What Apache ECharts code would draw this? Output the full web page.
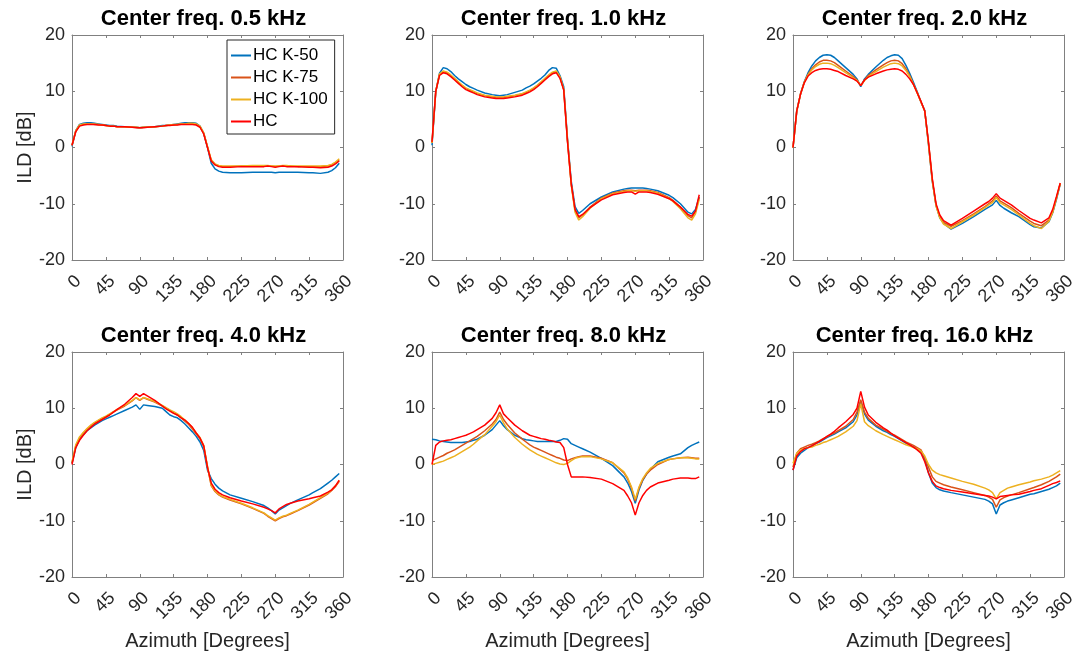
<!DOCTYPE html>
<html>
<head>
<meta charset="utf-8">
<script src="https://cdn.jsdelivr.net/npm/echarts@6/dist/echarts.min.js"></script>
<style>html,body{margin:0;padding:0;background:#fff}#c{width:1084px;height:657px}</style>
</head>
<body>
<div id="c"></div>
<script>
// Azimuth sample points (degrees)
const azimuth = [0,5,10,15,20,25,30,35,40,45, 50,55,60,70,80,85,90,95,100,110, 120,125,130,135,140,145,150,155,160,165, 170,175,180,185,190,195,200,210,225,240, 255,260,265,270,275,280,285,290,300,315, 320,330,340,345,350,355];
const xTicks = [0,45,90,135,180,225,270,315,360];
const yTicks = [-20,-10,0,10,20];
const seriesNames = ['HC K-50','HC K-75','HC K-100','HC'];
const panelTitles = ['Center freq. 0.5 kHz','Center freq. 1.0 kHz','Center freq. 2.0 kHz','Center freq. 4.0 kHz','Center freq. 8.0 kHz','Center freq. 16.0 kHz'];

// 0.5 kHz
const f05_k50 = [0.2,3.0,4.1,4.3,4.4,4.4,4.3,4.2,4.1,4.0, 3.9,3.9,3.8,3.7,3.6,3.6,3.5,3.6,3.6,3.7, 3.9,3.9,4.0,4.1,4.2,4.3,4.4,4.4,4.4,4.3, 3.8,2.5,0.0,-2.8,-3.8,-4.2,-4.4,-4.5,-4.5,-4.4, -4.4,-4.4,-4.4,-4.5,-4.4,-4.4,-4.4,-4.4,-4.4,-4.5, -4.5,-4.6,-4.4,-4.1,-3.6,-2.8];
const f05_k75 = [0.4,2.9,3.9,4.1,4.2,4.2,4.1,4.1,4.0,3.9, 3.8,3.8,3.7,3.7,3.6,3.6,3.5,3.6,3.6,3.7, 3.8,3.9,4.0,4.0,4.1,4.2,4.2,4.2,4.2,4.1, 3.7,2.5,0.1,-2.3,-3.0,-3.3,-3.4,-3.4,-3.3,-3.3, -3.3,-3.3,-3.3,-3.4,-3.3,-3.3,-3.3,-3.3,-3.4,-3.4, -3.4,-3.4,-3.3,-3.1,-2.7,-2.2];
const f05_k100 = [0.4,3.0,4.0,4.2,4.2,4.2,4.2,4.1,4.0,3.9, 3.8,3.8,3.7,3.7,3.6,3.6,3.5,3.6,3.6,3.7, 3.8,3.9,4.0,4.1,4.1,4.2,4.2,4.3,4.3,4.2, 3.8,2.6,0.2,-2.2,-2.9,-3.2,-3.3,-3.3,-3.3,-3.2, -3.2,-3.2,-3.3,-3.3,-3.3,-3.2,-3.2,-3.3,-3.3,-3.3, -3.3,-3.3,-3.2,-3.0,-2.6,-2.0];
const f05_hc = [0.4,2.8,3.8,4.0,4.1,4.1,4.1,4.0,4.0,3.9, 3.8,3.8,3.7,3.7,3.6,3.5,3.5,3.5,3.6,3.7, 3.8,3.9,3.9,4.0,4.0,4.1,4.1,4.1,4.1,4.0, 3.6,2.4,0.0,-2.4,-3.1,-3.4,-3.5,-3.5,-3.4,-3.4, -3.4,-3.3,-3.4,-3.5,-3.4,-3.3,-3.4,-3.4,-3.4,-3.5, -3.5,-3.6,-3.5,-3.3,-2.9,-2.4];

// 1.0 kHz
const f1_k50 = [0.4,9.9,13.2,14.2,14.0,13.5,12.8,12.2,11.7,11.2, 10.8,10.5,10.2,9.7,9.4,9.3,9.2,9.3,9.4,9.8, 10.2,10.6,10.9,11.3,11.8,12.3,12.9,13.7,14.2,14.1, 12.8,10.8,1.5,-6.0,-10.5,-11.7,-11.2,-10.0,-8.8,-7.9, -7.4,-7.3,-7.2,-7.2,-7.2,-7.2,-7.3,-7.4,-7.7,-8.5, -8.9,-10.0,-11.5,-11.8,-11.0,-8.8];
const f1_k75 = [0.8,10.0,13.0,13.5,13.3,12.8,12.2,11.6,11.0,10.5, 10.2,9.9,9.6,9.2,9.0,8.9,8.9,8.9,9.0,9.2, 9.5,9.8,10.1,10.5,11.0,11.6,12.2,12.8,13.3,13.5, 12.5,10.3,1.2,-6.5,-11.2,-12.5,-12.0,-10.6,-9.0,-8.1, -7.7,-7.6,-7.6,-7.7,-7.6,-7.6,-7.6,-7.7,-8.0,-8.9, -9.4,-10.6,-12.1,-12.5,-11.5,-8.9];
const f1_k100 = [0.8,10.0,13.1,13.6,13.4,12.9,12.3,11.7,11.1,10.6, 10.3,10.0,9.7,9.3,9.1,9.0,9.0,9.0,9.1,9.3, 9.6,9.9,10.2,10.6,11.1,11.7,12.3,12.9,13.4,13.6, 12.6,10.3,1.3,-6.7,-11.5,-12.9,-12.3,-10.8,-9.1,-8.2, -7.8,-7.7,-7.7,-7.8,-7.7,-7.7,-7.7,-7.8,-8.1,-9.1, -9.6,-10.9,-12.5,-12.9,-11.8,-9.2];
const f1_hc = [1.0,10.0,12.8,13.3,13.1,12.6,12.0,11.4,10.8,10.3, 10.0,9.7,9.4,9.0,8.8,8.7,8.7,8.7,8.8,9.0, 9.3,9.6,9.9,10.3,10.8,11.4,12.0,12.6,13.1,13.3, 12.3,10.2,1.0,-6.5,-11.0,-12.3,-11.9,-10.7,-9.3,-8.4, -8.0,-7.9,-7.9,-8.3,-7.9,-7.9,-7.9,-8.0,-8.3,-9.1, -9.5,-10.6,-11.9,-12.2,-11.3,-8.4];

// 2.0 kHz
const f2_k50 = [0.0,6.5,9.5,11.7,13.3,14.5,15.4,16.0,16.4,16.5, 16.4,16.0,15.4,14.2,13.0,12.2,10.8,12.2,13.0,14.3, 15.5,16.0,16.3,16.5,16.4,15.8,14.6,13.2,11.6,9.9, 8.1,6.6,0.5,-6.0,-10.3,-12.5,-13.5,-14.5,-13.5,-12.3, -11.0,-10.6,-10.2,-9.4,-10.3,-10.8,-11.2,-11.6,-12.3,-13.7, -14.1,-14.3,-13.2,-11.6,-9.2,-6.5];
const f2_k75 = [0.0,6.5,9.5,11.6,13.0,14.0,14.7,15.2,15.5,15.5, 15.4,15.1,14.6,13.6,12.6,12.0,11.0,12.0,12.8,13.8, 14.7,15.1,15.4,15.5,15.4,14.9,14.0,12.8,11.3,9.8, 8.1,6.5,0.8,-5.7,-10.2,-12.3,-13.3,-14.0,-13.0,-11.8, -10.5,-10.0,-9.5,-8.6,-9.5,-9.9,-10.3,-10.7,-11.7,-13.1, -13.5,-13.9,-12.9,-11.4,-9.0,-6.4];
const f2_k100 = [0.0,6.5,9.5,11.6,12.9,13.8,14.4,14.8,15.0,15.0, 14.9,14.6,14.2,13.3,12.4,11.9,11.0,11.9,12.6,13.5, 14.3,14.6,14.9,15.0,14.9,14.5,13.7,12.6,11.2,9.7, 8.1,6.5,0.6,-5.9,-10.4,-12.5,-13.6,-14.4,-13.2,-12.0, -10.7,-10.2,-9.8,-8.9,-9.8,-10.2,-10.6,-11.0,-12.0,-13.5, -13.9,-14.4,-13.1,-11.5,-9.0,-6.4];
const f2_hc = [0.0,6.5,9.5,11.5,12.7,13.3,13.7,13.9,14.0,14.0, 13.9,13.7,13.5,12.8,12.2,11.8,11.0,12.0,12.5,13.1, 13.6,13.8,13.9,14.0,13.9,13.6,13.0,12.2,11.2,9.7, 8.2,6.5,1.0,-5.5,-10.0,-12.0,-13.0,-13.8,-12.6,-11.3, -10.0,-9.6,-9.0,-8.2,-9.0,-9.4,-9.8,-10.2,-11.2,-12.6, -12.9,-13.4,-12.5,-11.0,-8.7,-6.3];

// 4.0 kHz
const f4_k50 = [0.2,3.0,4.5,5.3,6.0,6.5,7.0,7.4,7.8,8.1, 8.4,8.7,9.0,9.6,10.2,10.6,9.8,10.6,10.5,10.3, 10.0,9.4,8.8,8.5,8.3,7.8,7.2,6.5,5.8,5.0, 4.0,2.5,-1.0,-2.5,-3.5,-4.2,-4.7,-5.4,-6.0,-6.6, -7.3,-7.7,-8.2,-8.8,-8.1,-7.7,-7.3,-6.9,-6.3,-5.4, -5.0,-4.3,-3.3,-2.8,-2.2,-1.6];
const f4_k75 = [0.3,3.3,4.7,5.6,6.3,6.9,7.4,7.8,8.2,8.5, 8.9,9.3,9.7,10.4,11.3,11.9,11.4,11.9,11.6,11.1, 10.4,10.0,9.6,9.2,8.8,8.3,7.7,7.1,6.3,5.4, 4.6,3.2,-0.5,-3.8,-4.8,-5.4,-5.8,-6.3,-7.0,-7.8, -8.7,-9.2,-9.6,-10.0,-9.6,-9.3,-9.1,-8.8,-8.2,-7.2, -6.8,-6.0,-5.2,-4.6,-3.9,-3.0];
const f4_k100 = [0.4,3.5,4.9,5.7,6.4,7.0,7.5,7.9,8.3,8.6, 9.0,9.4,9.8,10.5,11.4,11.9,11.5,11.9,11.7,11.2, 10.5,10.1,9.7,9.4,9.0,8.5,7.9,7.3,6.5,5.6, 4.8,3.4,-0.3,-3.7,-4.7,-5.3,-5.7,-6.2,-6.9,-7.7, -8.6,-9.1,-9.5,-9.9,-9.5,-9.2,-9.0,-8.7,-8.1,-7.1, -6.7,-5.9,-5.1,-4.5,-3.8,-2.9];
const f4_hc = [0.0,3.0,4.3,5.2,6.0,6.6,7.2,7.6,8.0,8.4, 8.8,9.3,9.8,10.7,11.9,12.6,12.1,12.6,12.2,11.4, 10.4,9.9,9.5,9.1,8.8,8.3,7.9,7.3,6.6,5.6, 4.7,3.3,-0.5,-3.3,-4.4,-5.0,-5.4,-5.9,-6.5,-7.0, -7.6,-7.9,-8.2,-8.6,-7.9,-7.5,-7.1,-6.9,-6.5,-6.1, -5.9,-5.6,-4.9,-4.5,-3.8,-2.8];

// 8.0 kHz
const f8_k50 = [4.5,4.4,4.2,4.1,4.0,3.9,3.9,3.9,3.9,4.0, 4.1,4.3,4.5,5.2,6.2,7.0,7.8,6.9,6.2,5.2, 4.6,4.4,4.3,4.2,4.1,4.1,4.1,4.1,4.1,4.1, 4.3,4.6,4.5,3.7,3.4,3.1,2.8,2.2,1.1,-0.2, -2.2,-3.3,-4.8,-6.9,-4.5,-2.8,-1.7,-0.9,0.5,1.3, 1.5,1.9,3.0,3.4,3.7,4.0];
const f8_k75 = [0.7,1.0,1.3,1.6,2.0,2.3,2.6,3.0,3.4,3.8, 4.2,4.6,5.0,6.0,7.2,8.0,9.3,8.0,7.1,5.6, 4.5,4.0,3.5,3.1,2.8,2.5,2.2,1.9,1.6,1.3, 1.1,0.8,0.7,1.0,1.2,1.4,1.5,1.5,1.1,0.3, -1.5,-2.6,-4.2,-6.5,-4.2,-2.7,-1.7,-1.0,0.0,0.9, 1.0,1.2,1.3,1.2,1.1,1.1];
const f8_k100 = [0.0,0.2,0.4,0.6,0.9,1.2,1.5,1.9,2.3,2.7, 3.1,3.6,4.2,5.3,6.8,7.6,8.8,7.4,6.3,4.8, 3.6,3.1,2.6,2.2,1.8,1.5,1.2,0.9,0.6,0.3, 0.1,0.0,0.2,0.7,1.1,1.3,1.4,1.4,1.0,0.3, -1.3,-2.4,-4.0,-6.2,-4.0,-2.5,-1.5,-0.7,0.2,0.9, 1.0,1.2,1.2,1.1,1.0,1.0];
const f8_hc = [0.0,3.4,4.0,4.2,4.3,4.4,4.6,4.8,5.0,5.2, 5.5,5.8,6.2,7.0,8.2,9.2,10.6,9.0,8.3,7.0, 6.0,5.6,5.2,5.0,4.8,4.6,4.5,4.3,4.2,4.0, 3.9,3.0,0.0,-2.2,-2.2,-2.2,-2.2,-2.3,-2.6,-3.4, -4.6,-5.6,-6.8,-9.0,-6.8,-5.5,-4.6,-4.0,-3.3,-2.8, -2.6,-2.4,-2.4,-2.5,-2.5,-2.2];

// 16.0 kHz
const f16_k50 = [-1.0,1.2,2.0,2.5,3.0,3.3,3.7,4.0,4.4,4.8, 5.1,5.4,5.8,6.5,7.6,8.8,11.2,9.0,7.9,6.8, 6.0,5.7,5.3,5.0,4.6,4.2,3.8,3.5,3.1,2.8, 2.2,1.0,-1.5,-3.3,-4.1,-4.5,-4.7,-5.0,-5.4,-5.8, -6.2,-6.5,-7.0,-8.8,-7.2,-6.8,-6.5,-6.3,-5.9,-5.3, -5.2,-4.8,-4.4,-4.1,-3.8,-3.3];
const f16_k75 = [-0.5,2.0,2.8,3.1,3.4,3.6,3.9,4.2,4.6,4.9, 5.3,5.6,6.0,6.8,8.0,9.3,11.5,9.3,8.2,7.0, 6.3,5.9,5.5,5.2,4.8,4.4,4.0,3.7,3.4,3.0, 2.6,1.2,-0.5,-2.2,-3.0,-3.3,-3.6,-4.0,-4.5,-5.0, -5.5,-5.8,-6.2,-7.6,-6.3,-5.9,-5.6,-5.4,-5.0,-4.3, -4.1,-3.6,-3.0,-2.6,-2.2,-1.7];
const f16_k100 = [0.2,2.0,2.6,2.8,3.0,3.1,3.4,3.6,3.9,4.1, 4.4,4.7,5.0,5.8,6.8,7.8,10.8,7.6,6.9,6.0, 5.3,5.0,4.7,4.4,4.1,3.8,3.5,3.3,3.0,2.8, 2.4,1.5,0.0,-1.0,-1.5,-1.8,-2.0,-2.4,-3.0,-3.5, -4.2,-4.5,-5.0,-6.1,-5.0,-4.6,-4.2,-4.0,-3.6,-3.1, -2.9,-2.6,-2.2,-1.9,-1.5,-1.1];
const f16_hc = [-1.0,1.5,2.3,2.8,3.0,3.3,3.7,4.1,4.5,5.0, 5.4,5.9,6.5,7.6,8.9,10.0,13.0,10.2,8.8,7.5, 6.5,6.1,5.6,5.1,4.7,4.3,3.9,3.5,3.1,2.6, 2.0,0.5,-1.5,-3.0,-3.8,-4.1,-4.3,-4.6,-4.9,-5.2, -5.5,-5.6,-5.8,-6.1,-5.7,-5.6,-5.5,-5.4,-5.3,-4.8, -4.6,-4.3,-3.7,-3.4,-3.2,-2.9];

const panelData = [
  [f05_k50, f05_k75, f05_k100, f05_hc],
  [f1_k50, f1_k75, f1_k100, f1_hc],
  [f2_k50, f2_k75, f2_k100, f2_hc],
  [f4_k50, f4_k75, f4_k100, f4_hc],
  [f8_k50, f8_k75, f8_k100, f8_hc],
  [f16_k50, f16_k75, f16_k100, f16_hc]
];

const colors = ['#0072BD','#D95319','#EDB120','#FF0000'];
const FONT = "'Liberation Sans', Arial, Helvetica, sans-serif";
const TXT = '#262626';
const BOX = '#808080';
const lefts = [72, 432, 793];
const tops = [35, 352];
const W = 271, H = 225;

const grid = [], xAxis = [], yAxis = [], series = [], title = [];
for (let p = 0; p < 6; p++) {
  const r = Math.floor(p / 3), c = p % 3;
  grid.push({left: lefts[c], top: tops[r], width: W, height: H, containLabel: false});
  title.push({
    text: panelTitles[p], left: lefts[c] + W / 2 - 9, top: tops[r] - 32, textAlign: 'center',
    textStyle: {fontFamily: FONT, fontSize: 22, fontWeight: 'bold', color: '#000'}
  });
  const tick = {show: true, inside: true, length: 3, lineStyle: {color: BOX, width: 1}};
  const line = {show: true, onZero: false, lineStyle: {color: BOX, width: 1}};
  xAxis.push({
    type: 'value', gridIndex: p, min: 0, max: 360, interval: 45, position: 'bottom',
    axisLine: line, axisTick: tick, splitLine: {show: false},
    axisLabel: {show: true, rotate: 45, fontSize: 18, color: TXT, fontFamily: FONT, margin: 12,
      verticalAlign: 'top', showMinLabel: true, showMaxLabel: true},
    name: r === 1 ? 'Azimuth [Degrees]' : '', nameLocation: 'middle', nameGap: 54,
    nameTextStyle: {fontSize: 20, color: TXT, fontFamily: FONT}
  });
  xAxis.push({
    type: 'value', gridIndex: p, min: 0, max: 360, interval: 45, position: 'top',
    axisLine: line, axisTick: tick, axisLabel: {show: false}, splitLine: {show: false}
  });
  yAxis.push({
    type: 'value', gridIndex: p, min: -20, max: 20, interval: 10, position: 'left',
    axisLine: line, axisTick: tick, splitLine: {show: false},
    axisLabel: {show: true, fontSize: 18, color: TXT, fontFamily: FONT, margin: 7},
    name: c === 0 ? 'ILD [dB]' : '', nameLocation: 'middle', nameGap: 36,
    nameTextStyle: {fontSize: 20, color: TXT, fontFamily: FONT}
  });
  yAxis.push({
    type: 'value', gridIndex: p, min: -20, max: 20, interval: 10, position: 'right',
    axisLine: line, axisTick: tick, axisLabel: {show: false}, splitLine: {show: false}
  });
  for (let s = 0; s < 4; s++) {
    series.push({
      type: 'line', name: seriesNames[s], xAxisIndex: 2 * p, yAxisIndex: 2 * p,
      data: azimuth.map((a, i) => [a, panelData[p][s][i]]),
      showSymbol: false, symbol: 'none', color: colors[s],
      lineStyle: {width: 1.5, color: colors[s]}, z: 2 + s, animation: false
    });
  }
}

const chart = echarts.init(document.getElementById('c'), null, {renderer: 'canvas'});
chart.setOption({
  animation: false,
  backgroundColor: '#fff',
  title: title,
  grid: grid, xAxis: xAxis, yAxis: yAxis, series: series,
  legend: {
    data: seriesNames, orient: 'vertical', left: 227, top: 40,
    icon: 'rect', itemWidth: 20, itemHeight: 2, itemGap: 5,
    padding: [7, 7, 4, 4], borderColor: TXT, borderWidth: 1, backgroundColor: '#fff',
    textStyle: {fontSize: 17, color: '#000', fontFamily: FONT, padding: [0, 0, 0, -3]},
    selectedMode: false
  }
});
</script>
</body>
</html>
